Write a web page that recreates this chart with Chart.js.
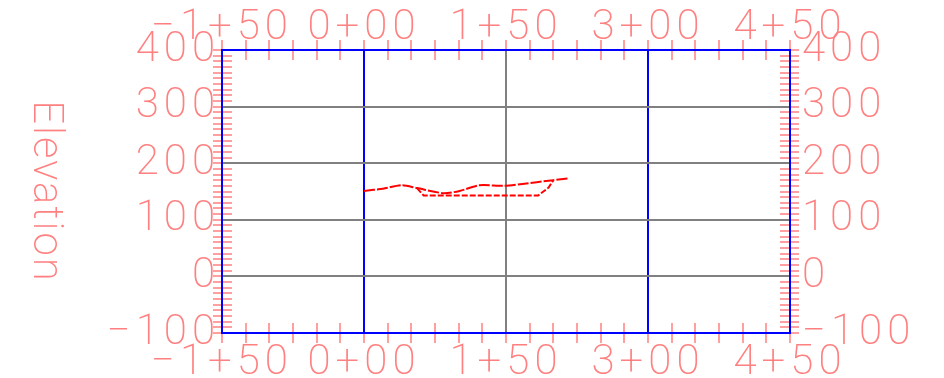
<!DOCTYPE html>
<html>
<head>
<meta charset="utf-8">
<script src="https://cdn.jsdelivr.net/npm/chart.js@4/dist/chart.umd.min.js"></script>
<style>
  html, body { margin: 0; padding: 0; background: #ffffff; }
  canvas { display: block; }
</style>
</head>
<body>
<canvas id="profile" width="944" height="378"></canvas>
<script>
// Profile data (station in feet, elevation)
const groundSta   = [0, 20, 40, 56, 84, 101, 122, 147, 165, 200, 216];
const groundElev  = [151, 155, 161, 156, 147, 151, 161, 160, 163, 170, 173];
const templateSta  = [56, 63, 184, 195, 200];
const templateElev = [156, 143, 143, 157, 170];

// Axis ranges / ticks
const staMin = -150, staMax = 450, staStep = 150, staMinor = 25;
const elevMin = -100, elevMax = 400, elevStep = 100, elevMinor = 10;
const blueSta = [-150, 0, 300, 450];
const blueElev = [-100, 400];
const yTitle = 'Elevation';

const LABEL = '#ff8080';
const BLUE = '#0000ff';
const GRAY = '#808080';
const FONT = { family: 'Roboto', size: 42, weight: 200 };

function fmtSta(v) {
  const a = Math.abs(v);
  return (v < 0 ? '\u2212' : '') + Math.floor(a / 100) + '+' + String(a % 100).padStart(2, '0');
}
function fmtElev(v) {
  return v < 0 ? '\u2212' + Math.abs(v) : String(v);
}

function toPoints(xs, ys) {
  return xs.map((x, i) => ({ x: x, y: ys[i] }));
}

// minor tick marks crossing the frame + rotated axis title
const frameTicks = {
  id: 'frameTicks',
  beforeDraw(chart) {
    const ctx = chart.ctx;
    const a = chart.chartArea;
    const xs = chart.scales.x, ys = chart.scales.y;
    ctx.save();
    ctx.strokeStyle = LABEL;
    ctx.lineWidth = 1.5;
    ctx.beginPath();
    for (let v = elevMin; v <= elevMax; v += elevMinor) {
      const py = Math.round(ys.getPixelForValue(v));
      ctx.moveTo(a.left - 9, py); ctx.lineTo(a.left + 10, py);
      ctx.moveTo(a.right - 10, py); ctx.lineTo(a.right + 9, py);
    }
    for (let v = staMin; v <= staMax; v += staMinor) {
      const px = Math.round(xs.getPixelForValue(v));
      ctx.moveTo(px, a.top - 10); ctx.lineTo(px, a.top + 10);
      ctx.moveTo(px, a.bottom - 10); ctx.lineTo(px, a.bottom + 10);
    }
    ctx.stroke();

    ctx.fillStyle = LABEL;
    ctx.font = '200 42px Roboto';
    ctx.letterSpacing = '2px';
    ctx.translate(44, (a.top + a.bottom) / 2);
    ctx.rotate(Math.PI / 2);
    ctx.textAlign = 'center';
    ctx.textBaseline = 'middle';
    ctx.fillText(yTitle, 0, 0);
    ctx.restore();
    // spacing for the tick labels drawn by the scales
    ctx.letterSpacing = '5px';
  }
};

const staGrid = {
  color: c => (c.tick && blueSta.includes(c.tick.value)) ? BLUE : GRAY,
  lineWidth: 2,
  drawTicks: false
};
const elevGrid = {
  color: c => (c.tick && blueElev.includes(c.tick.value)) ? BLUE : GRAY,
  lineWidth: 2,
  drawTicks: false
};

new Chart(document.getElementById('profile'), {
  type: 'scatter',
  data: {
    datasets: [
      {
        label: 'Ground',
        data: toPoints(groundSta, groundElev),
        showLine: true,
        borderColor: '#ff0000',
        borderWidth: 2,
        borderDash: [11, 2],
        tension: 0.25,
        pointRadius: 0
      },
      {
        label: 'Template',
        data: toPoints(templateSta, templateElev),
        showLine: true,
        borderColor: '#ff0000',
        borderWidth: 2,
        borderDash: [6, 2],
        pointRadius: 0
      }
    ]
  },
  options: {
    responsive: false,
    animation: false,
    devicePixelRatio: 1,
    layout: { padding: 0 },
    plugins: { legend: { display: false }, tooltip: { enabled: false } },
    scales: {
      x: {
        type: 'linear', position: 'bottom',
        min: staMin, max: staMax,
        grid: staGrid,
        border: { color: BLUE, width: 2 },
        ticks: { stepSize: staStep, callback: fmtSta, color: LABEL, font: FONT, padding: 5, maxRotation: 0 },
        afterFit: s => { s.height = 45; }
      },
      x2: {
        type: 'linear', position: 'top',
        min: staMin, max: staMax,
        grid: Object.assign({}, staGrid, { drawOnChartArea: false }),
        border: { color: BLUE, width: 2 },
        ticks: { stepSize: staStep, callback: fmtSta, color: LABEL, font: FONT, padding: -4, maxRotation: 0 },
        afterFit: s => { s.height = 50; }
      },
      y: {
        type: 'linear', position: 'left',
        min: elevMin, max: elevMax,
        grid: elevGrid,
        border: { color: BLUE, width: 2 },
        ticks: { stepSize: elevStep, callback: fmtElev, color: LABEL, font: FONT, padding: 2 },
        afterFit: s => { s.width = 222; }
      },
      y2: {
        type: 'linear', position: 'right',
        min: elevMin, max: elevMax,
        grid: Object.assign({}, elevGrid, { drawOnChartArea: false }),
        border: { color: BLUE, width: 2 },
        ticks: { stepSize: elevStep, callback: fmtElev, color: LABEL, font: FONT, padding: 12 },
        afterFit: s => { s.width = 154; }
      }
    }
  },
  plugins: [frameTicks]
});
</script>
</body>
</html>
